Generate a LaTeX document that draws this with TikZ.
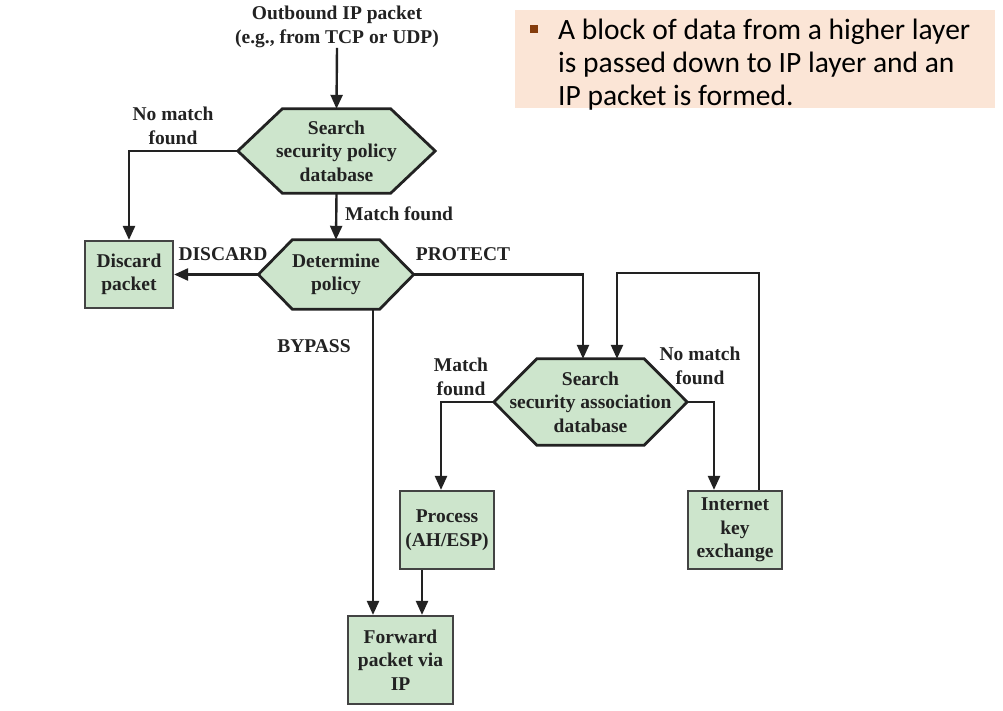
\documentclass[tikz,border=0pt]{standalone}
\usepackage{fontspec}
\setmainfont{Liberation Serif}
\newfontfamily\calibri{Carlito}
\usetikzlibrary{backgrounds,arrows.meta}
\definecolor{boxgreen}{HTML}{CDE5CC}
\definecolor{ink}{HTML}{222222}
\definecolor{peach}{HTML}{FBE5D6}
\definecolor{bulletbrown}{HTML}{843C0C}
\newcommand{\hexoutline}[2]{%
  \begin{scope}[on background layer]
    \draw[hexdraw] (#1.west) -- ([xshift=#2]#1.north west) -- ([xshift=-#2]#1.north east)
      -- (#1.east) -- ([xshift=-#2]#1.south east) -- ([xshift=#2]#1.south west) -- cycle;
  \end{scope}}
\begin{document}
\begin{tikzpicture}[x=1pt,y=-1pt,
  lbl/.style={font=\fontsize{19.5}{23.5}\selectfont\bfseries, text=ink, align=center, inner sep=0pt},
  hexnode/.style={lbl},
  hexdraw/.style={draw=ink, line width=2.8pt, fill=boxgreen, line join=miter},
  boxnode/.style={lbl, draw=ink!85, line width=2.2pt, fill=boxgreen},
  arr/.style={draw=ink, line width=2.4pt, -{Triangle[length=14pt,width=12pt]}}]
\useasboundingbox (0,0) rectangle (1003,711);

% callout
\fill[peach] (515,10) rectangle (995,108);
\node[fill=bulletbrown, minimum size=8pt, inner sep=0pt] (bul) at (533.5,29) {};
\node[anchor=north west, inner sep=0pt, align=left, text=black,
      font=\calibri\fontsize{29.5}{33}\selectfont] (call) at (558,18.5)
  {A block of data from a higher layer\\is passed down to IP layer and an\\IP packet is formed.};

% nodes
\node[lbl] (src) at (337,27) {Outbound IP packet\\(e.g., from TCP or UDP)};
\node[hexnode, minimum width=197pt, minimum height=84pt] (spd) at (336.5,151) {Search\\security policy\\database};
\node[hexnode, minimum width=155pt, minimum height=69pt] (dp) at (336,274.5) {Determine\\policy};
\node[boxnode, minimum width=88pt, minimum height=67pt] (disc) at (129,274.5) {Discard\\packet};
\node[hexnode, minimum width=193pt, minimum height=86pt] (sad) at (590.5,402) {Search\\security association\\database};
\node[boxnode, minimum width=94pt, minimum height=78pt] (proc) at (447,530) {Process\\(AH/ESP)};
\node[boxnode, minimum width=94pt, minimum height=78pt] (ike) at (735,530) {Internet\\key\\exchange};
\node[boxnode, minimum width=105pt, minimum height=88pt] (fwd) at (400.5,660) {Forward\\packet via\\IP};

\hexoutline{spd}{44.5pt}
\hexoutline{dp}{34pt}
\hexoutline{sad}{43pt}

% labels
\node[lbl] (l1) at (173,126) {No match\\found};
\node[lbl, anchor=west] (l2) at (345,214) {Match found};
\node[lbl] (l3) at (223,254) {DISCARD};
\node[lbl] (l4) at (463,254) {PROTECT};
\node[lbl] (l5) at (314,346) {BYPASS};
\node[lbl] (l6) at (461,377) {Match\\found};
\node[lbl] (l7) at (700,366) {No match\\found};

% connectors
\coordinate (looptop) at (759,273);
\draw[arr] (src.south) -- (spd.north);
\draw[arr] (spd.west) -| (disc.north);
\draw[arr] (spd.south) -- (dp.north);
\draw[arr] (dp.west) -- (disc.east);
\draw[arr] (dp.east) -| ([xshift=-7.5pt]sad.north);
\draw[arr] ([xshift=37pt]dp.south) -- ([xshift=37pt]dp.south |- fwd.north);
\draw[arr] (sad.west) -| ([xshift=-6pt]proc.north);
\draw[arr] (sad.east) -| ([xshift=-21pt]ike.north);
\draw[arr] ([xshift=-25pt]proc.south) -- ([xshift=-25pt]proc.south |- fwd.north);
\draw[arr] ([xshift=24pt]ike.north) -- (looptop) -| ([xshift=26.5pt]sad.north);
\end{tikzpicture}
\end{document}
